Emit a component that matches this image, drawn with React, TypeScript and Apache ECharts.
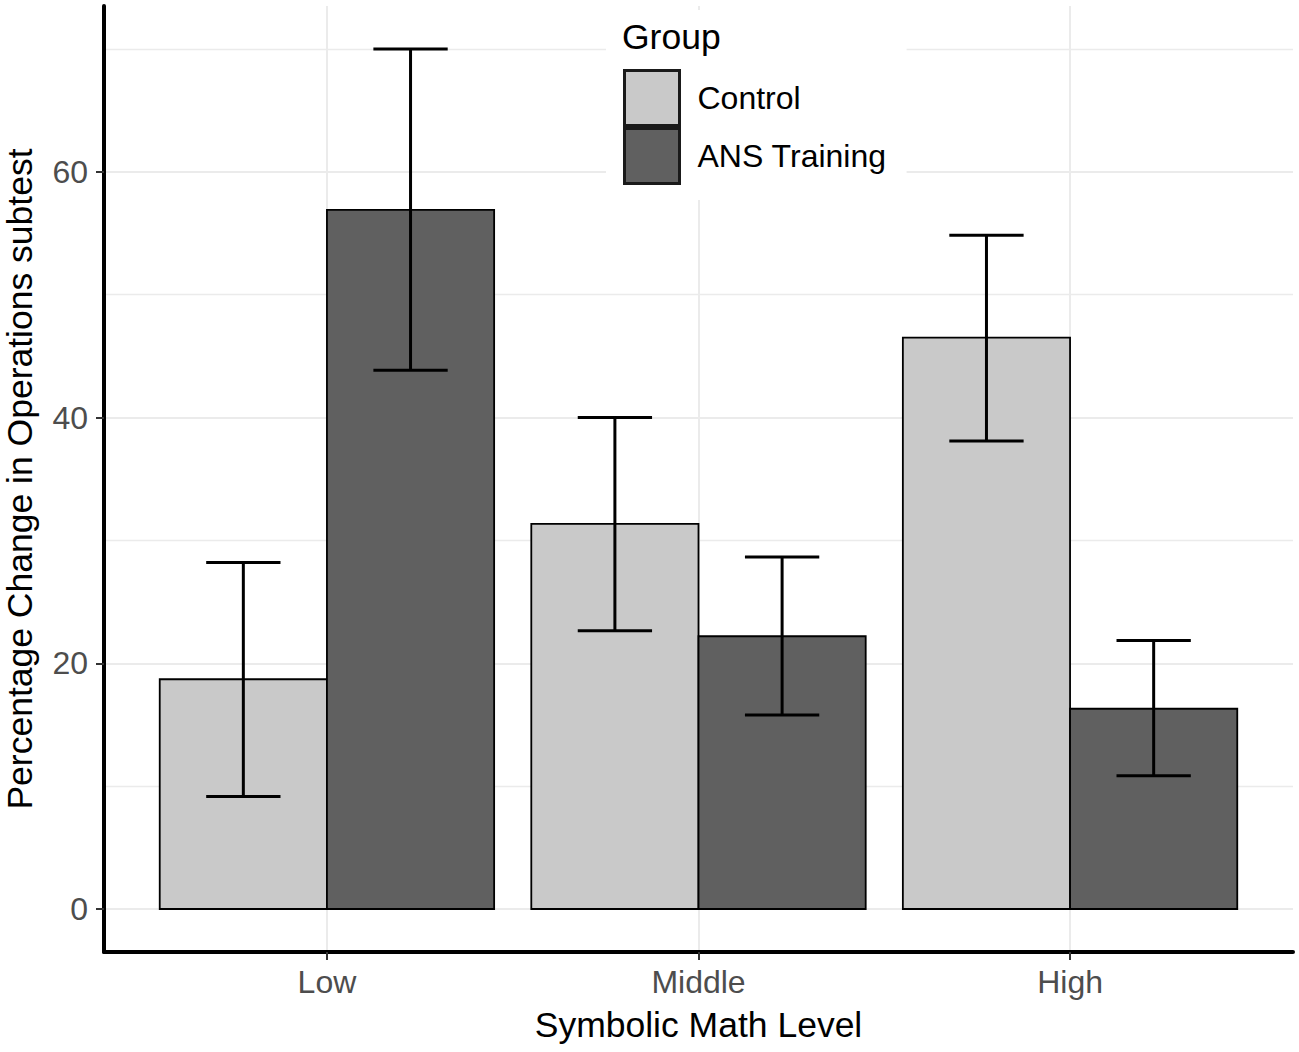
import React, { useEffect, useRef } from "react";
import * as echarts from "echarts";

const categories = ["Low", "Middle", "High"];
const groupNames = ["Control", "ANS Training"];
const controlMean = [18.7, 31.35, 46.5];
const controlLower = [9.15, 22.65, 38.1];
const controlUpper = [28.2, 40.0, 54.85];
const ansMean = [56.9, 22.2, 16.3];
const ansLower = [43.85, 15.8, 10.85];
const ansUpper = [70.0, 28.65, 21.85];
const yTicks = [0, 20, 40, 60];
const yMinorTicks = [10, 30, 50, 70];
const xTicks = [1, 2, 3];

const FONT = "'Liberation Sans', Arial, Helvetica, sans-serif";
const CONTROL_COLOR = "#C9C9C9";
const ANS_COLOR = "#606060";
const DODGE = 0.45; // each bar width in category units
const CAP_HALF = 0.1;

function barSeries(name: string, means: number[], o0: number, o1: number, color: string) {
  return {
    type: "custom",
    name,
    data: means.map((v, i) => [i + 1, v]),
    encode: { x: 0, y: 1 },
    z: 3,
    renderItem: (_p: any, api: any) => {
      const x = api.value(0);
      const y = api.value(1);
      const a = api.coord([x + o0, y]);
      const b = api.coord([x + o1, 0]);
      return {
        type: "rect",
        shape: { x: a[0], y: a[1], width: b[0] - a[0], height: b[1] - a[1] },
        style: { fill: color, stroke: "#000", lineWidth: 1.8 },
      };
    },
  };
}

function errSeries(name: string, lower: number[], upper: number[], center: number) {
  return {
    type: "custom",
    name,
    data: lower.map((lo, i) => [i + 1, lo, upper[i]]),
    encode: { x: 0, y: [1, 2] },
    z: 4,
    renderItem: (_p: any, api: any) => {
      const x = api.value(0) + center;
      const lo = api.coord([x, api.value(1)]);
      const hi = api.coord([x, api.value(2)]);
      const l = api.coord([x - CAP_HALF, api.value(2)]);
      const r = api.coord([x + CAP_HALF, api.value(2)]);
      const st = { stroke: "#000", lineWidth: 3 };
      return {
        type: "group",
        children: [
          { type: "line", shape: { x1: lo[0], y1: lo[1], x2: hi[0], y2: hi[1] }, style: st },
          { type: "line", shape: { x1: l[0], y1: hi[1], x2: r[0], y2: hi[1] }, style: st },
          { type: "line", shape: { x1: l[0], y1: lo[1], x2: r[0], y2: lo[1] }, style: st },
        ],
      };
    },
  };
}

export default function App() {
  const ref = useRef<HTMLDivElement>(null);
  useEffect(() => {
    document.body.style.margin = "0";
    if (!ref.current) return;
    const chart = echarts.init(ref.current, null, { renderer: "svg" });
    const hiMax = Math.max(...controlUpper, ...ansUpper);
    const pad = hiMax * 0.05;
    const yMin = -pad;
    const yMax = hiMax + pad;
    const option: any = {
      animation: false,
      backgroundColor: "#fff",
      textStyle: { fontFamily: FONT },
      grid: { left: 104, right: 6, top: 6, bottom: 100, outerBoundsMode: "none" },
      title: {
        text: "Group",
        left: 622,
        top: 19,
        padding: 0,
        textStyle: { fontSize: 35.5, fontWeight: "normal", color: "#000", fontFamily: FONT },
      },
      legend: {
        orient: "vertical",
        left: 606,
        top: 10,
        padding: [59, 20, 15, 17],
        backgroundColor: "#fff",
        itemWidth: 55,
        itemHeight: 55,
        itemGap: 0,
        selectedMode: false,
        data: [
          { name: groupNames[0], icon: "rect", itemStyle: { color: CONTROL_COLOR, borderColor: "#1a1a1a", borderWidth: 3 } },
          { name: groupNames[1], icon: "rect", itemStyle: { color: ANS_COLOR, borderColor: "#1a1a1a", borderWidth: 3 } },
        ],
        textStyle: { fontSize: 32, color: "#000", fontFamily: FONT, padding: [0, 0, 0, 13] },
      },
      xAxis: {
        type: "value",
        min: 1 - 0.6,
        max: categories.length + 0.6,
        axisLine: { show: true, onZero: false, lineStyle: { color: "#000", width: 4 } },
        axisTick: { show: true, customValues: xTicks, length: 8, lineStyle: { color: "#333", width: 2 } },
        axisLabel: {
          customValues: xTicks,
          formatter: (v: number) => categories[Math.round(v) - 1] ?? "",
          fontSize: 32,
          color: "#4D4D4D",
          fontFamily: FONT,
          margin: 14,
        },
        splitLine: { show: true, lineStyle: { color: "#EBEBEB", width: 2 } },
        name: "Symbolic Math Level",
        nameLocation: "middle",
        nameGap: 55,
        nameMoveOverlap: false,
        nameTextStyle: { fontSize: 35.5, color: "#000", fontFamily: FONT },
      },
      yAxis: [
        {
          type: "value",
          min: yMin,
          max: yMax,
          axisLine: { show: true, onZero: false, lineStyle: { color: "#000", width: 4 } },
          axisTick: { show: true, customValues: yTicks, length: 8, lineStyle: { color: "#333", width: 2 } },
          axisLabel: { customValues: yTicks, fontSize: 32, color: "#4D4D4D", fontFamily: FONT, margin: 16 },
          splitLine: { show: true, lineStyle: { color: "#EBEBEB", width: 2 } },
          name: "Percentage Change in Operations subtest",
          nameLocation: "middle",
          nameGap: 66,
          nameRotate: 90,
          nameMoveOverlap: false,
          nameTextStyle: { fontSize: 35.5, color: "#000", fontFamily: FONT },
        },
        {
          type: "value",
          min: yMin,
          max: yMax,
          position: "left",
          axisLine: { show: false },
          axisTick: { show: false, customValues: yMinorTicks },
          axisLabel: { show: false, customValues: yMinorTicks },
          splitLine: { show: true, lineStyle: { color: "#EBEBEB", width: 1.4 } },
        },
      ],
      series: [
        barSeries(groupNames[0], controlMean, -DODGE, 0, CONTROL_COLOR),
        barSeries(groupNames[1], ansMean, 0, DODGE, ANS_COLOR),
        errSeries("Control SE", controlLower, controlUpper, -DODGE / 2),
        errSeries("ANS Training SE", ansLower, ansUpper, DODGE / 2),
      ],
    };
    chart.setOption(option);
    return () => chart.dispose();
  }, []);
  return <div ref={ref} style={{ width: 1299, height: 1052 }} />;
}
